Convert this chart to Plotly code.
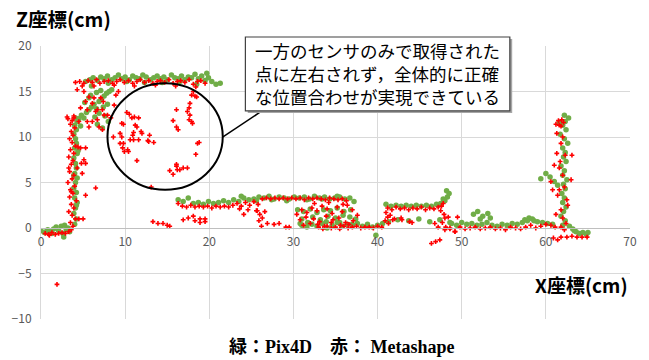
import plotly.graph_objects as go

# ---- Pix4D point cloud (green), x / z in cm, grouped by surface ----
g_floor_left_x = [0.0, 0.4, 0.8, 1.1, 1.5, 1.8, 2.1, 2.4, 2.6, 2.8, 3.0, 3.2, 3.4, 2.7, 1.3, 0.6]
g_floor_left_z = [-0.3, -0.5, -0.2, -0.4, -0.1, 0.1, -0.3, 0.2, -0.6, 0.3, -0.2, 0.0, -0.4, -1.0, -0.6, -0.4]

g_left_wall_x = [4.0, 4.2, 3.9, 4.1, 4.3, 4.0, 4.2, 3.9, 4.1, 4.3, 4.0, 4.2, 4.1, 3.9, 4.3, 4.0, 4.2, 4.1, 3.9, 4.2, 4.0, 4.3, 4.1, 4.2, 3.9, 4.4]
g_left_wall_z = [0.4, 1.0, 1.6, 2.2, 2.8, 3.3, 3.9, 4.4, 5.0, 5.5, 6.0, 6.6, 7.1, 7.7, 8.2, 8.8, 9.3, 9.8, 10.3, 10.8, 11.3, 11.7, 12.1, 2.5, 5.8, 8.5]

g_diag_x = [4.5, 4.8, 5.1, 5.4, 5.7, 6.0, 6.3, 6.6, 6.9, 7.2, 7.5, 7.8, 8.1, 8.4, 5.2, 5.7, 6.4, 6.9, 7.4, 7.9, 6.7, 5.9, 6.6, 7.1, 7.6, 8.0, 7.3, 4.7]
g_diag_z = [12.0, 12.4, 12.1, 12.7, 13.0, 13.3, 13.6, 13.1, 13.9, 14.2, 14.5, 14.8, 15.0, 15.2, 13.8, 14.3, 12.2, 12.6, 13.3, 13.6, 11.4, 14.6, 14.9, 15.1, 12.3, 11.7, 11.0, 11.2]

g_top_x = [5.3, 5.8, 6.2, 6.7, 7.1, 7.5, 7.9, 8.4, 8.8, 9.2, 9.6, 10.0, 10.5, 10.9, 11.3, 11.7, 12.1, 12.5, 13.0, 13.4,
           13.8, 14.2, 14.6, 15.0, 15.5, 15.9, 16.3, 16.7, 17.1, 17.5, 17.9, 18.3, 18.7, 19.1, 19.5, 19.9, 20.3, 20.8,
           21.3, 6.0, 8.0, 10.2, 12.3, 14.4, 16.5, 18.5, 19.7]
g_top_z = [16.1, 16.3, 16.5, 16.2, 16.6, 16.4, 16.7, 16.3, 16.5, 16.8, 16.4, 16.6, 16.3, 16.7, 16.5, 16.4, 16.8, 16.6, 16.3, 16.5,
           16.7, 16.4, 16.6, 16.3, 16.8, 16.5, 16.4, 16.7, 16.3, 16.6, 16.5, 16.9, 16.4, 16.7, 16.2, 16.5, 16.1, 15.8,
           15.9, 15.6, 15.9, 16.1, 16.0, 16.0, 16.1, 15.8, 17.0]

g_shelf1_x = [16.3, 16.9, 17.5, 18.1, 18.7, 19.3, 19.9, 20.5, 21.1, 21.7, 22.3, 22.9, 23.5, 24.1, 24.7, 25.3, 25.9, 26.5,
              27.1, 27.7, 28.3, 28.9, 29.5, 30.1, 30.7, 31.3, 31.9, 32.5, 33.1, 33.7, 34.3, 34.9, 35.5, 36.1, 36.7,
              37.2, 23.8, 25.6, 27.4, 29.2, 31.6, 33.4, 35.2]
g_shelf1_z = [3.1, 2.9, 3.3, 2.7, 2.8, 2.6, 2.9, 2.7, 2.8, 3.0, 2.8, 3.1, 2.9, 3.3, 3.1, 3.2, 3.4, 3.3,
              3.5, 3.2, 3.4, 3.3, 3.2, 3.4, 3.3, 3.4, 3.2, 3.5, 3.3, 3.4, 3.2, 3.3, 3.4, 3.2, 3.3,
              2.9, 3.5, 3.0, 3.1, 3.0, 3.1, 3.2, 3.5]

g_mid_x = [30.5, 31.2, 32.0, 32.8, 33.6, 34.4, 35.2, 36.0, 36.8, 31.0, 32.3, 33.2, 34.1, 35.0, 35.9, 36.7, 37.4, 30.8, 31.7, 33.9, 35.5, 37.0]
g_mid_z = [2.0, 1.8, 2.1, 1.7, 2.0, 1.9, 2.2, 1.8, 2.0, 1.0, 1.2, 0.9, 1.3, 1.1, 1.4, 1.2, 1.0, 0.5, 0.6, 0.7, 0.6, 0.4]

g_floor_mid_x = [31.0, 31.6, 32.2, 32.8, 33.4, 34.0, 34.6, 35.2, 35.8, 36.4, 37.0, 37.6, 38.2, 38.8, 39.4, 40.0, 40.6, 39.8]
g_floor_mid_z = [0.3, 0.1, 0.4, 0.2, 0.5, 0.0, 0.3, 0.6, 0.2, 0.4, 0.3, 0.5, 0.2, 0.4, 0.1, 0.3, 0.5, -0.8]

g_shelf2_x = [41.0, 41.6, 42.2, 42.8, 43.4, 44.0, 44.6, 45.2, 45.8, 46.4, 47.0, 47.5, 48.0, 48.3, 48.5, 48.2, 47.8]
g_shelf2_z = [2.6, 2.4, 2.5, 2.4, 2.5, 2.4, 2.5, 2.4, 2.5, 2.4, 2.6, 2.7, 3.0, 3.4, 3.8, 4.1, 3.2]

g_floor2_x = [41.3, 42.4, 43.7, 44.9, 46.2, 47.4, 48.6]
g_floor2_z = [0.7, 0.9, 0.8, 1.0, 0.7, 0.9, 0.6]

g_floor3_x = [48.8, 49.4, 50.0, 50.6, 51.2, 51.8, 52.4, 53.0, 53.6, 54.2, 54.8, 55.4, 56.0, 56.6, 57.2, 57.8, 58.4, 59.0,
              59.6, 60.2, 60.8, 51.4, 51.9, 52.5, 53.1, 52.2, 53.4, 57.5, 58.0, 58.6]
g_floor3_z = [0.5, 0.3, 0.6, 0.4, 0.5, 0.3, 0.4, 0.6, 0.3, 0.2, 0.4, 0.3, 0.5, 0.4, 0.6, 0.8, 1.0, 0.7,
              0.6, 0.5, 0.4, 1.5, 1.8, 1.3, 1.6, 1.0, 1.1, 0.9, 1.1, 0.8]

g_right_wall_x = [62.0, 62.3, 61.8, 62.1, 62.4, 62.0, 62.2, 61.9, 62.3, 62.1, 62.5, 62.0, 62.2, 61.8, 62.4, 62.1, 62.3, 62.0,
                  62.6, 62.2, 61.7, 62.4, 62.0, 62.3, 62.7, 61.6, 62.2, 59.4, 60.0, 60.5, 61.0, 61.4]
g_right_wall_z = [0.3, 0.8, 1.3, 1.8, 2.3, 2.8, 3.3, 3.8, 4.3, 4.8, 5.3, 5.8, 6.3, 6.8, 7.3, 7.8, 8.3, 8.8,
                  9.3, 9.8, 10.3, 10.8, 11.3, 11.7, 12.1, 11.6, 12.4, 5.4, 6.0, 5.6, 5.1, 4.7]

g_floor_right_x = [62.8, 63.2, 63.6, 64.0, 64.4, 64.8, 65.0, 63.4]
g_floor_right_z = [0.2, -0.1, -0.4, -0.6, -0.5, -0.7, -0.5, -0.3]

# ---- Metashape point cloud (red) ----
r_floor_left_x = [0.5, 0.9, 1.3, 1.7, 2.1, 2.5, 2.9, 3.3, 3.6, 1.0]
r_floor_left_z = [-0.6, -0.7, -0.5, -0.7, -0.6, -0.5, -0.6, -0.4, -0.2, -0.8]

r_left_wall_x = [3.8, 3.5, 4.1, 3.7, 3.3, 3.9, 3.6, 4.2, 3.4, 3.8, 3.5, 4.0, 3.2, 3.7, 3.9, 3.4, 4.3, 3.6, 3.8, 3.3,
                 3.9, 3.5, 4.1, 3.7, 3.4, 3.8, 3.6, 4.0, 3.5, 3.7, 3.2, 3.9, 4.4, 3.6, 3.3, 4.5, 4.8, 5.3]
r_left_wall_z = [0.2, 0.6, 1.0, 1.4, 1.8, 2.2, 2.6, 3.0, 3.4, 3.8, 4.2, 4.6, 5.0, 5.4, 5.8, 6.2, 6.6, 7.0, 7.4, 7.8,
                 8.2, 8.6, 9.0, 9.4, 9.8, 10.2, 10.6, 11.0, 11.4, 11.8, 12.0, 12.3, 8.9, 4.0, 6.6, 1.0, 7.1, 7.1]

r_left_out_x = [4.7, 5.3, 5.1, 6.5, 5.3, 4.9, 5.0, 1.9]
r_left_out_z = [8.8, 8.8, 7.5, 4.4, 3.6, 6.0, 1.0, -6.2]

r_diag_x = [4.3, 5.1, 5.7, 6.3, 5.3, 6.1, 7.1, 7.4, 4.7, 5.5, 6.5, 7.3, 7.9, 3.1, 3.9, 4.5, 8.3, 5.5, 6.7,
            6.7, 7.5, 6.9, 7.3, 6.1, 5.7, 8.9, 9.2, 8.7, 4.9]
r_diag_z = [15.2, 15.0, 14.4, 14.3, 13.9, 13.7, 14.3, 13.9, 13.2, 13.0, 12.8, 13.0, 12.4, 12.2, 12.1, 11.7, 12.1, 11.7, 11.9,
            13.0, 12.4, 11.1, 10.8, 11.7, 11.1, 14.6, 15.0, 13.5, 15.6]

r_top_x = [4.1, 4.6, 5.1, 5.6, 6.1, 6.6, 7.0, 7.5, 8.0, 8.5, 9.0, 9.4, 9.9, 10.4, 10.9, 11.4, 11.8, 12.3, 12.8, 13.3,
           13.8, 14.2, 14.7, 15.2, 15.7, 16.2, 16.6, 17.1, 17.6, 18.1, 18.6, 19.0, 19.5, 6.3, 8.7, 11.1, 13.6, 16.0, 18.4]
r_top_z = [16.0, 16.1, 15.9, 16.2, 16.0, 16.3, 15.9, 16.1, 16.2, 15.9, 16.1, 16.3, 16.0, 16.2, 15.9, 16.1, 16.3, 16.0, 16.2, 15.9,
           16.1, 16.2, 16.0, 16.3, 15.9, 16.1, 16.2, 16.0, 16.3, 15.8, 16.1, 16.2, 15.9, 15.6, 15.7, 15.6, 15.7, 15.6, 15.5]

r_circle_x = [17.9, 18.5, 17.7, 17.6, 17.4, 17.7, 17.6, 17.9, 18.0, 16.1, 15.7, 16.1, 16.3, 10.2, 10.5, 11.1, 11.6, 10.8,
              9.6, 9.8, 11.2, 11.4, 11.0, 10.9, 11.9, 12.0, 12.9, 9.4, 9.6, 8.6, 9.4, 9.8, 9.7, 10.3, 10.4, 9.9, 10.6,
              11.0, 11.6, 12.7, 12.8, 13.4, 18.8, 18.6, 18.4, 11.4, 16.1, 16.1, 16.9, 17.4, 16.5, 15.3, 15.7, 16.2,
              13.1, 18.1, 18.3]
r_circle_z = [14.6, 14.4, 13.7, 13.2, 12.8, 12.4, 11.9, 11.7, 11.5, 13.0, 11.8, 11.1, 10.8, 12.7, 12.5, 12.2, 12.1, 12.1,
              11.5, 11.4, 11.3, 11.1, 10.5, 10.2, 10.6, 10.4, 10.2, 10.4, 10.0, 10.0, 9.3, 9.3, 8.8, 8.6, 8.4, 8.4, 9.7,
              9.7, 9.7, 9.6, 9.5, 9.4, 9.4, 9.3, 8.1, 7.4, 7.0, 6.8, 6.6, 6.6, 6.4, 6.3, 5.9, 6.4,
              4.5, 15.0, 14.5]

r_low_x = [13.3, 13.9, 14.5, 15.0, 15.3]
r_low_z = [0.7, 0.5, 0.5, 0.3, 0.2]

r_shelf1_x = [16.3, 16.8, 17.3, 17.8, 18.3, 18.8, 19.3, 19.8, 20.3, 20.8, 21.3, 21.8, 22.3, 22.8, 23.3, 23.8, 24.3, 24.8,
              25.3, 25.8, 26.3, 26.8, 27.3, 27.8, 28.3, 28.8, 29.3, 29.8, 30.3, 30.8, 31.3, 31.8, 32.3, 32.8, 33.3,
              33.8, 34.3, 34.8, 35.3, 35.8, 36.3, 23.6, 24.6, 25.6, 26.6]
r_shelf1_z = [2.7, 2.4, 2.3, 2.5, 2.3, 2.4, 2.3, 2.4, 2.2, 2.4, 2.3, 2.4, 2.3, 2.5, 2.7, 2.4, 2.8, 2.5,
              2.9, 2.6, 3.2, 3.3, 3.2, 3.3, 3.2, 3.3, 3.2, 3.3, 3.2, 3.3, 3.1, 3.3, 3.2, 3.3, 3.2,
              3.1, 3.3, 3.2, 3.1, 3.2, 3.0, 2.1, 2.0, 1.9, 1.8]

r_under1_x = [16.9, 17.5, 18.3, 18.1, 18.9, 19.5, 19.5, 18.9, 25.7, 26.0, 26.3, 26.2, 26.9, 27.7, 28.3, 29.1, 29.5, 25.9, 24.1]
r_under1_z = [0.9, 1.1, 0.8, 1.3, 0.6, 0.7, 1.0, 1.0, 1.9, 1.5, 1.1, 0.2, 0.5, 0.4, 0.5, 0.1, 0.1, 0.8, 1.5]

r_mid_x = [30.4, 31.0, 31.6, 32.2, 32.8, 33.4, 34.0, 34.6, 35.2, 35.8, 36.4, 37.0, 37.6, 30.8, 31.5, 32.4, 33.1, 33.9,
           34.7, 35.4, 36.2, 37.1, 31.2, 32.0, 32.9, 33.7, 34.5, 35.6, 36.6, 32.5, 34.2, 35.9]
r_mid_z = [1.5, 2.0, 1.7, 2.2, 1.9, 2.4, 2.1, 1.6, 2.3, 1.8, 2.5, 2.0, 1.4, 0.9, 1.2, 1.0, 0.7, 1.3,
           0.9, 1.1, 0.6, 0.8, 0.3, 0.5, 0.4, 0.2, 0.6, 0.3, 0.4, 2.7, 2.8, 2.6]

r_floor_mid_x = [33.0, 33.5, 34.0, 34.5, 35.0, 35.5, 36.0, 36.5, 37.0, 37.5, 38.0, 38.5, 39.0, 39.5, 40.0, 40.5, 41.8, 42.8, 43.8]
r_floor_mid_z = [0.1, -0.1, 0.2, 0.0, 0.1, -0.1, 0.2, 0.0, 0.1, 0.2, 0.0, 0.1, 0.1, 0.0, 0.2, 0.1, 0.9, 1.1, 0.7]

r_shelf2_x = [41.2, 41.7, 42.2, 42.7, 43.2, 43.7, 44.2, 44.7, 45.2, 45.7, 46.2, 46.7, 47.2, 47.6, 47.8, 47.5, 47.9, 48.0,
              47.7, 41.0, 41.2, 40.9, 41.3, 41.5, 42.0, 42.9, 44.1, 48.1, 46.8, 47.2, 48.0, 48.6, 49.2, 46.4, 46.9, 47.4]
r_shelf2_z = [2.2, 2.0, 2.3, 2.1, 2.2, 2.0, 2.2, 2.1, 2.3, 2.0, 2.2, 2.1, 2.3, 2.4, 2.7, 1.9, 1.5, 1.1,
              0.6, 1.7, 1.2, 0.8, 0.5, 1.4, 1.0, 0.9, 0.6, 0.1, 0.5, 0.1, -0.2, 0.0, -0.4, -1.7, -1.5, -1.3]

r_floor3_x = [48.6, 49.2, 49.8, 50.4, 51.0, 51.6, 52.2, 52.8, 53.4, 54.0, 54.6, 55.2, 55.8, 56.4, 57.0, 57.6, 58.2, 58.8,
              59.4, 60.0, 60.6, 61.1, 49.5, 48.4]
r_floor3_z = [-0.1, -0.4, 0.1, -0.1, 0.0, 0.1, -0.1, 0.0, 0.1, -0.1, 0.0, -0.2, 0.1, 0.0, -0.1, 0.1, 0.3, 0.0,
              0.2, 0.4, 0.3, 0.1, 1.2, 1.2]

r_right_wall_x = [61.2, 61.6, 61.8, 61.3, 62.0, 61.8, 61.3, 62.3, 63.1, 61.0, 61.6, 60.6, 60.8, 61.6, 62.2, 63.0, 62.5, 61.8,
                  62.0, 62.4, 61.8, 62.2, 61.5, 61.9, 62.1, 61.7, 62.0, 61.4, 62.6, 61.2]
r_right_wall_z = [11.4, 11.3, 11.2, 10.4, 10.0, 9.3, 8.2, 8.0, 8.0, 6.9, 6.6, 5.1, 4.2, 4.2, 4.5, 5.3, 3.1, 2.0,
                  1.1, 0.5, 0.1, -0.2, 11.8, 11.9, 11.6, 7.3, 5.8, 3.6, 2.5, 1.5]

r_floor_right_x = [61.8, 62.5, 63.1, 63.7, 64.3, 64.9, 61.4, 60.9]
r_floor_right_z = [-1.0, -1.0, -0.9, -1.0, -1.0, -1.0, -1.3, -1.1]

green_x = (g_floor_left_x + g_left_wall_x + g_diag_x + g_top_x + g_shelf1_x + g_mid_x + g_floor_mid_x
           + g_shelf2_x + g_floor2_x + g_floor3_x + g_right_wall_x + g_floor_right_x)
green_z = (g_floor_left_z + g_left_wall_z + g_diag_z + g_top_z + g_shelf1_z + g_mid_z + g_floor_mid_z
           + g_shelf2_z + g_floor2_z + g_floor3_z + g_right_wall_z + g_floor_right_z)
red_x = (r_floor_left_x + r_left_wall_x + r_left_out_x + r_diag_x + r_top_x + r_circle_x + r_low_x + r_shelf1_x
         + r_under1_x + r_mid_x + r_floor_mid_x + r_shelf2_x + r_floor3_x + r_right_wall_x + r_floor_right_x)
red_z = (r_floor_left_z + r_left_wall_z + r_left_out_z + r_diag_z + r_top_z + r_circle_z + r_low_z + r_shelf1_z
         + r_under1_z + r_mid_z + r_floor_mid_z + r_shelf2_z + r_floor3_z + r_right_wall_z + r_floor_right_z)

x_ticks = [0, 10, 20, 30, 40, 50, 60, 70]
z_ticks = [-10, -5, 0, 5, 10, 15, 20]

callout_lines = ["一方のセンサのみで取得された", "点に左右されず，全体的に正確", "な位置合わせが実現できている"]

JP = "Noto Sans CJK JP"
GRID = "#D9D9D9"
TICK = "#595959"

fig = go.Figure()
fig.add_trace(go.Scatter(x=green_x, y=green_z, mode="markers", name="Pix4D",
                         marker=dict(color="#70AD47", size=5.5, symbol="circle", line=dict(width=0))))
fig.add_trace(go.Scatter(x=red_x, y=red_z, mode="markers", name="Metashape",
                         marker=dict(color="#FF0000", size=4, symbol="cross", line=dict(width=0))))

fig.update_layout(
    width=649, height=360,
    margin=dict(l=40, r=16, t=46, b=41),
    paper_bgcolor="white", plot_bgcolor="white",
    showlegend=False,
    font=dict(family=JP, color=TICK, size=12),
    xaxis=dict(range=[0, 70], tickvals=x_ticks, showgrid=True, gridcolor=GRID, gridwidth=1,
               zeroline=False, showline=True, linecolor="#BFBFBF", linewidth=1,
               anchor="free", position=1 / 3, ticks="", ticklabelstandoff=3,
               tickfont=dict(size=12, color=TICK)),
    yaxis=dict(range=[-10, 20], tickvals=z_ticks, showgrid=True, gridcolor=GRID, gridwidth=1,
               zeroline=False, showline=True, linecolor=GRID, ticks="", ticklabelstandoff=6,
               tickfont=dict(size=12, color=TICK)),
)

# ellipse around the scattered Metashape points
fig.add_shape(type="circle", xref="x", yref="y", x0=7.9, x1=21.6, y0=4.2, y1=15.9,
              line=dict(color="black", width=2), layer="above")
# connector to the comment box
fig.add_shape(type="line", xref="paper", yref="paper", x0=0.309, y0=0.667, x1=0.375, y1=0.762,
              line=dict(color="black", width=1.5))
# comment box with a light shadow
fig.add_shape(type="rect", xref="paper", yref="paper", x0=0.351, x1=0.800, y0=0.755, y1=1.026,
              line=dict(width=0), fillcolor="#A6A6A6", layer="above")
fig.add_shape(type="rect", xref="paper", yref="paper", x0=0.347, x1=0.796, y0=0.762, y1=1.033,
              line=dict(color="#404040", width=1.2), fillcolor="white", layer="above")
fig.add_annotation(xref="paper", yref="paper", x=0.5715, y=0.8975, xanchor="center", yanchor="middle",
                   text="<br>".join(callout_lines), showarrow=False, align="left",
                   font=dict(family=JP, size=17.5, color="black"))

# axis titles
fig.add_annotation(xref="paper", yref="paper", x=-0.06, y=1.0, xshift=8, yshift=28,
                   xanchor="left", yanchor="middle", text="<b>Z座標(cm)</b>", showarrow=False,
                   font=dict(family=JP, size=19.5, color="black"))
fig.add_annotation(xref="paper", yref="paper", x=1.0, y=0.125, xanchor="right", yanchor="middle",
                   text="<b>X座標(cm)</b>", showarrow=False,
                   font=dict(family=JP, size=19, color="black"))

# series key under the chart
fig.add_annotation(xref="paper", yref="paper", x=0.51, y=0, yshift=-28, xanchor="center", yanchor="middle",
                   text="<b>緑：Pix4D　赤： Metashape</b>", showarrow=False,
                   font=dict(family="Liberation Serif, Noto Sans CJK JP", size=18, color="black"))

fig.write_html("out.html")
